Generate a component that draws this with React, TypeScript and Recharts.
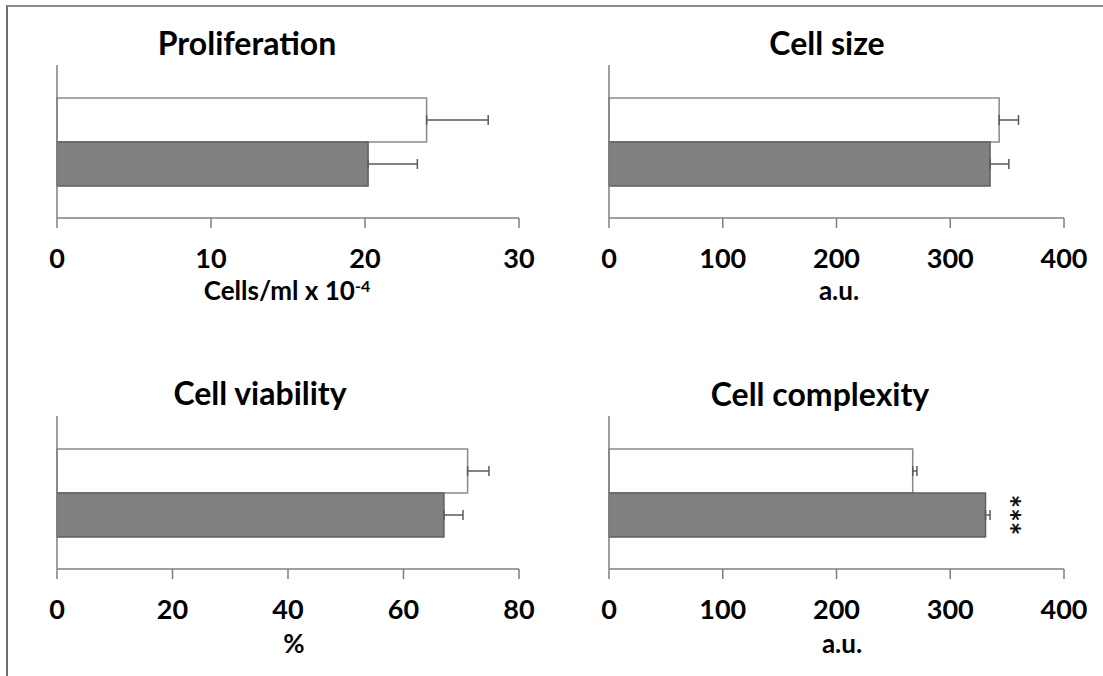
import { BarChart, Bar, XAxis, YAxis, ErrorBar } from "recharts";

// values: [control (white), treated (grey)]
const proliferationMean = [24.0, 20.2];
const proliferationErr = [4.0, 3.2];
const sizeMean = [343, 335];
const sizeErr = [17, 16.5];
const viabilityMean = [71.1, 67.0];
const viabilityErr = [3.7, 3.3];
const complexityMean = [267, 331];
const complexityErr = [3.7, 4];

const proliferationTicks = [0, 10, 20, 30];
const sizeTicks = [0, 100, 200, 300, 400];
const viabilityTicks = [0, 20, 40, 60, 80];
const complexityTicks = [0, 100, 200, 300, 400];

const FONT = "Lato, 'Open Sans', sans-serif";
const AXIS = "#7f7f7f";

function rowFor(mean: number[], err: number[]) {
  return [
    {
      name: "g",
      control: mean[0],
      treated: mean[1],
      controlErr: [0, err[0]],
      treatedErr: [0, err[1]],
    },
  ];
}

// three asterisks, rotated like in the original figure
function Stars(props: any) {
  const { x, y, width, height } = props;
  const cx = x + width + 28;
  const cy = y + height / 2;
  return (
    <text
      x={cx}
      y={cy}
      transform={`rotate(90, ${cx}, ${cy})`}
      textAnchor="middle"
      fontFamily={FONT}
      fontWeight={700}
      fontSize={32}
      fill="#111"
      dy={18}
    >
      ***
    </text>
  );
}

interface PanelProps {
  left: number;
  top: number;
  width: number;
  marginLeft: number;
  marginRight: number;
  mean: number[];
  err: number[];
  ticks: number[];
  title: string;
  titleX: number;
  titleY: number;
  label: React.ReactNode;
  labelX: number;
  labelY: number;
  stars?: boolean;
}

function Panel(p: PanelProps) {
  const data = rowFor(p.mean, p.err);
  const max = p.ticks[p.ticks.length - 1];
  return (
    <div style={{ position: "absolute", left: p.left, top: p.top }}>
      <BarChart
        width={p.width}
        height={330}
        data={data}
        layout="vertical"
        barSize={44}
        barGap={0}
        margin={{ top: 65, left: p.marginLeft - 1, right: p.marginRight, bottom: 52 }}
      >
        <XAxis
          type="number"
          domain={[0, max]}
          ticks={p.ticks}
          interval={0}
          height={60}
          tickSize={10}
          tickMargin={21}
          axisLine={{ stroke: AXIS, strokeWidth: 1.5 }}
          tickLine={{ stroke: AXIS, strokeWidth: 1.5 }}
          tick={{ fontSize: 27, fontWeight: 700, fill: "#000", fontFamily: FONT }}
        />
        <YAxis
          type="category"
          dataKey="name"
          width={1}
          tick={false}
          tickLine={false}
          axisLine={{ stroke: AXIS, strokeWidth: 1.5 }}
        />
        <Bar dataKey="control" fill="#ffffff" stroke="#8a8a8a" strokeWidth={1.5} isAnimationActive={false}>
          <ErrorBar dataKey="controlErr" direction="x" width={5} stroke="#5a5a5a" strokeWidth={1.5} />
        </Bar>
        <Bar
          dataKey="treated"
          fill="#808080"
          stroke="#5f5f5f"
          strokeWidth={1.5}
          isAnimationActive={false}
          label={p.stars ? (lp: any) => <Stars {...lp} /> : undefined}
        >
          <ErrorBar dataKey="treatedErr" direction="x" width={5} stroke="#5a5a5a" strokeWidth={1.5} />
        </Bar>
        <text
          x={p.titleX}
          y={p.titleY}
          textAnchor="middle"
          fontFamily={FONT}
          fontWeight={700}
          fontSize={32}
          fill="#000"
        >
          {p.title}
        </text>
        <text
          x={p.labelX}
          y={p.labelY}
          textAnchor="middle"
          fontFamily={FONT}
          fontWeight={700}
          fontSize={26}
          fill="#000"
        >
          {p.label}
        </text>
      </BarChart>
    </div>
  );
}

export default function App() {
  return (
    <div
      style={{
        position: "absolute",
        left: 0,
        top: 0,
        width: 1103,
        height: 676,
        overflow: "hidden",
        background: "#fff",
        fontFamily: FONT,
      }}
    >
      <div
        style={{
          position: "absolute",
          left: 6,
          top: 5,
          width: 1103,
          height: 700,
          borderTop: "2px solid #8c8c8c",
          borderLeft: "2px solid #6e6e6e",
        }}
      />
      <Panel
        left={0}
        top={0}
        width={550}
        marginLeft={57}
        marginRight={31}
        mean={proliferationMean}
        err={proliferationErr}
        ticks={proliferationTicks}
        title="Proliferation"
        titleX={247}
        titleY={55}
        label={
          <>
            Cells/ml x 10
            <tspan fontSize={16} dy={-8}>
              -4
            </tspan>
          </>
        }
        labelX={287}
        labelY={300}
      />
      <Panel
        left={550}
        top={0}
        width={553}
        marginLeft={59}
        marginRight={39}
        mean={sizeMean}
        err={sizeErr}
        ticks={sizeTicks}
        title="Cell size"
        titleX={277}
        titleY={55}
        label="a.u."
        labelX={289}
        labelY={300}
      />
      <Panel
        left={0}
        top={351}
        width={550}
        marginLeft={57}
        marginRight={31}
        mean={viabilityMean}
        err={viabilityErr}
        ticks={viabilityTicks}
        title="Cell viability"
        titleX={260}
        titleY={54}
        label="%"
        labelX={294}
        labelY={302}
      />
      <Panel
        left={550}
        top={351}
        width={553}
        marginLeft={59}
        marginRight={39}
        mean={complexityMean}
        err={complexityErr}
        ticks={complexityTicks}
        title="Cell complexity"
        titleX={270}
        titleY={55}
        label="a.u."
        labelX={292}
        labelY={302}
        stars
      />
    </div>
  );
}
